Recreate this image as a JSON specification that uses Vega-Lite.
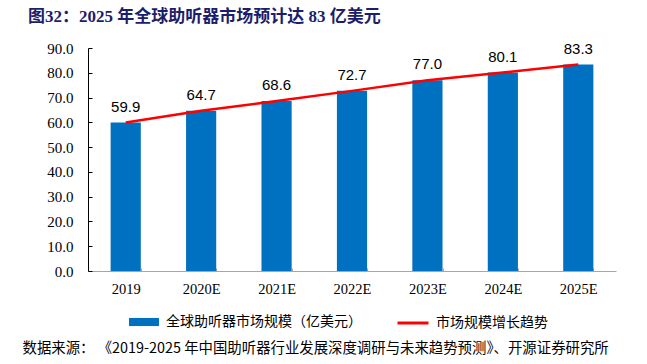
{
  "$schema": "https://vega.github.io/schema/vega-lite/v6.json",
  "width": 528,
  "height": 223,
  "autosize": {"type": "none"},
  "padding": {"left": 88, "top": 48, "right": 31, "bottom": 93},
  "background": "white",
  "title": {
    "text": "图32：2025 年全球助听器市场预计达 83 亿美元",
    "anchor": "start",
    "frame": "group",
    "dx": -60,
    "offset": 15,
    "font": "Liberation Serif, Noto Sans CJK SC",
    "fontSize": 17,
    "fontWeight": "bold",
    "color": "#1d1d6b"
  },
  "config": {"view": {"stroke": null}},
  "data": {
    "values": [
      {"year": "2019", "value": 59.9},
      {"year": "2020E", "value": 64.7},
      {"year": "2021E", "value": 68.6},
      {"year": "2022E", "value": 72.7},
      {"year": "2023E", "value": 77.0},
      {"year": "2024E", "value": 80.1},
      {"year": "2025E", "value": 83.3}
    ]
  },
  "encoding": {
    "x": {
      "field": "year",
      "type": "nominal",
      "sort": null,
      "scale": {"paddingInner": 0.6, "paddingOuter": 0.3},
      "axis": {
        "title": "数据来源：  《2019-2025 年中国助听器行业发展深度调研与未来趋势预测》、开源证券研究所",
        "labelAngle": 0,
        "tickBand": "extent",
        "tickSize": -3,
        "domainColor": "#A6A6A6",
        "tickColor": "#A6A6A6",
        "labelFont": "Liberation Serif",
        "labelFontSize": 14.5,
        "labelColor": "#000000",
        "labelPadding": 14,
        "titleFont": "Noto Sans CJK SC",
        "titleFontSize": 14.4,
        "titleFontWeight": "normal",
        "titleColor": "#000000",
        "titleX": -66,
        "titleY": 77,
        "titleAlign": "left",
        "titleBaseline": "middle",
        "titleLimit": 0
      }
    },
    "y": {
      "field": "value",
      "type": "quantitative",
      "scale": {"domain": [0, 90], "nice": false},
      "axis": {
        "values": [0, 10, 20, 30, 40, 50, 60, 70, 80, 90],
        "format": ".1f",
        "title": null,
        "grid": false,
        "domainColor": "#000000",
        "tickColor": "#000000",
        "tickSize": -4,
        "labelFont": "Liberation Serif",
        "labelFontSize": 15,
        "labelColor": "#000000",
        "labelPadding": 19
      }
    }
  },
  "layer": [
    {
      "mark": {"type": "bar"},
      "encoding": {
        "fill": {
          "datum": "全球助听器市场规模（亿美元）",
          "scale": {"range": ["#0070C0"]},
          "legend": {
            "orient": "none",
            "legendX": 40,
            "legendY": 258,
            "title": null,
            "symbolType": "M-1,-0.27H1V0.27H-1Z",
            "symbolSize": 900,
            "labelFont": "Noto Sans CJK SC",
            "labelFontSize": 14,
            "labelColor": "#000000",
            "labelOffset": 6,
            "labelLimit": 0
          }
        }
      }
    },
    {
      "mark": {"type": "line", "strokeWidth": 2.5},
      "encoding": {
        "stroke": {
          "datum": "市场规模增长趋势",
          "scale": {"range": ["#FF0000"]},
          "legend": {
            "orient": "none",
            "legendX": 308,
            "legendY": 258,
            "title": null,
            "symbolType": "stroke",
            "symbolSize": 961,
            "symbolStrokeWidth": 3,
            "labelFont": "Noto Sans CJK SC",
            "labelFontSize": 14,
            "labelColor": "#000000",
            "labelOffset": 6,
            "labelLimit": 0
          }
        }
      }
    },
    {
      "mark": {"type": "text", "baseline": "middle", "dy": -16, "font": "Liberation Sans", "fontSize": 15, "color": "#000000"},
      "encoding": {
        "text": {"field": "value", "type": "quantitative", "format": ".1f"}
      }
    }
  ]
}
